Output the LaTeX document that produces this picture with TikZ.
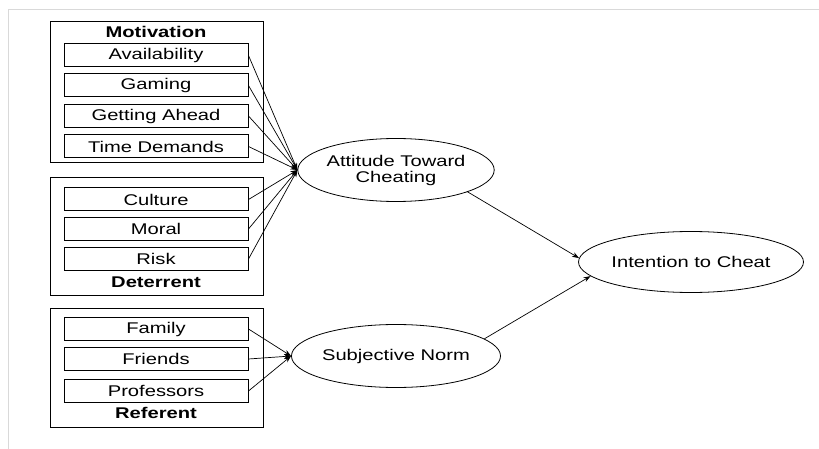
\documentclass[tikz,border=0pt]{standalone}
\usepackage{fontspec}
\setmainfont{Liberation Sans}[FakeStretch=1.3]
\usepackage{tikz}
\usetikzlibrary{shapes.geometric,arrows.meta}

\tikzset{
  item/.style={draw,line width=1pt,minimum width=184pt,minimum height=23pt,inner sep=0pt},
  group/.style={draw,line width=1pt,minimum width=213pt,inner sep=0pt},
  construct/.style={draw,ellipse,line width=0.8pt,minimum width=176pt,minimum height=63pt,inner sep=0pt,align=center},
  path/.style={-{Stealth[length=7pt,width=5pt]},line width=0.7pt}
}

\begin{document}
\begin{tikzpicture}[x=1pt,y=-1pt,font=\fontsize{15.5}{14}\selectfont]
      \useasboundingbox (0,0) rectangle (819,449);
      \draw[gray!30,line width=1pt] (819,10) -- (8,10) -- (8,449);
      % groups
      \node[group,minimum height=141pt] (mot) at (156.5,92.5) {};
      \node[group,minimum height=117pt] (det) at (156.5,236.5) {};
      \node[group,minimum height=119pt] (ref) at (156.5,367.5) {};
      \node[font=\fontsize{15.5}{14}\bfseries] (motl) at (156,32) {Motivation};
      \node[font=\fontsize{15.5}{14}\bfseries] (detl) at (156,282) {Deterrent};
      \node[font=\fontsize{15.5}{14}\bfseries] (refl) at (156,413) {Referent};
      % items
      \node[item] (avail) at (156,55.5) {Availability};
      \node[item] (gaming) at (156,85.5) {Gaming};
      \node[item] (ahead) at (156,116) {Getting Ahead};
      \node[item] (time) at (156,146.5) {Time Demands};
      \node[item] (culture) at (156,199.5) {Culture};
      \node[item] (moral) at (156,229) {Moral};
      \node[item] (risk) at (156,259) {Risk};
      \node[item] (family) at (156,329) {Family};
      \node[item] (friends) at (156,359) {Friends};
      \node[item] (prof) at (156,391) {Professors};
      % constructs
      \node[construct] (att) at (396,170) {Attitude Toward\\[2pt]Cheating};
      \node[construct] (norm) at (396,356) {Subjective Norm};
      \node[construct,minimum width=178pt,minimum height=61pt] (int) at (691,262) {Intention to Cheat};
      % paths
      \foreach \n in {avail,gaming,ahead,time,culture,moral,risk}
        \draw[path] (\n.east) -- (att.west);
      \foreach \n in {family,friends,prof}
        \draw[path] (\n.east) -- (norm.west);
      \draw[path] (att.-17) -- (int.178);
      \draw[path] (norm.11) -- (int.188);
    \end{tikzpicture}
\end{document}
